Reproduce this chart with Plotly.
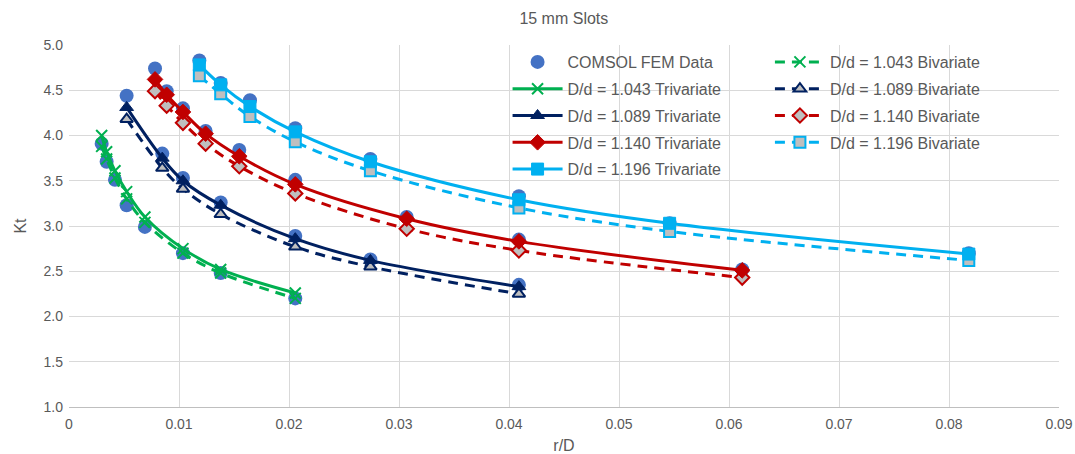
import plotly.graph_objects as go

# ---------------- data ----------------
x_1043 = [0.00297, 0.00342, 0.00418, 0.00524, 0.00690, 0.01036, 0.01379, 0.02057]
fem_1043 = [3.91, 3.71, 3.51, 3.23, 2.99, 2.70, 2.48, 2.20]
tri_1043 = [4.00, 3.82, 3.61, 3.38, 3.10, 2.75, 2.52, 2.26]
bi_1043 = [3.88, 3.74, 3.53, 3.30, 3.04, 2.70, 2.48, 2.20]

x_1089 = [0.00524, 0.00848, 0.01036, 0.01379, 0.02057, 0.0274, 0.0409]
fem_1089 = [4.44, 3.80, 3.53, 3.26, 2.89, 2.63, 2.35]
tri_1089 = [4.31, 3.75, 3.50, 3.23, 2.86, 2.62, 2.33]
bi_1089 = [4.18, 3.64, 3.41, 3.13, 2.77, 2.55, 2.25]

x_1140 = [0.00782, 0.00888, 0.01036, 0.01242, 0.01548, 0.02057, 0.0307, 0.0409, 0.0612]
fem_1140 = [4.74, 4.49, 4.30, 4.05, 3.84, 3.51, 3.10, 2.85, 2.52]
tri_1140 = [4.62, 4.45, 4.26, 4.02, 3.77, 3.46, 3.08, 2.83, 2.51]
bi_1140 = [4.49, 4.33, 4.14, 3.91, 3.66, 3.36, 2.97, 2.73, 2.43]

x_1196 = [0.01185, 0.01379, 0.01645, 0.02057, 0.0274, 0.0409, 0.0546, 0.0818]
fem_1196 = [4.83, 4.58, 4.39, 4.08, 3.74, 3.33, 3.03, 2.70]
tri_1196 = [4.78, 4.56, 4.32, 4.04, 3.71, 3.29, 3.03, 2.69]
bi_1196 = [4.66, 4.46, 4.21, 3.93, 3.61, 3.20, 2.94, 2.62]

ratios = ["1.043", "1.089", "1.140", "1.196"]
xs = [x_1043, x_1089, x_1140, x_1196]
fems = [fem_1043, fem_1089, fem_1140, fem_1196]
tris = [tri_1043, tri_1089, tri_1140, tri_1196]
bis = [bi_1043, bi_1089, bi_1140, bi_1196]

colors = ["#00B050", "#002060", "#C00000", "#00B0F0"]
symbols = ["x-thin", "triangle-up", "diamond", "square"]
FEM_COLOR = "#4472C4"
GRAY = "#BFBFBF"
TEXT = "#595959"
FONT = "Liberation Sans, Arial, sans-serif"

fig = go.Figure()

# COMSOL FEM data (drawn first, behind everything)
fem_x = [v for xx in xs for v in xx]
fem_y = [v for yy in fems for v in yy]
fig.add_trace(go.Scatter(
    x=fem_x, y=fem_y, mode="markers", name="COMSOL FEM Data",
    marker=dict(symbol="circle", size=14, color=FEM_COLOR),
    legend="legend", legendrank=1, legendgroup="fem",
))

# Bivariate (dashed)
for i, r in enumerate(ratios):
    c = colors[i]
    if symbols[i] == "x-thin":
        mk = dict(symbol="x-thin", size=11, color=c, line=dict(color=c, width=2))
    else:
        mk = dict(symbol=symbols[i], size=11, color=GRAY, line=dict(color=c, width=2))
    fig.add_trace(go.Scatter(
        x=xs[i], y=bis[i], mode="lines+markers",
        name=f"D/d = {r} Bivariate",
        line=dict(color=c, width=3, dash="10px,7px", shape="spline", smoothing=1),
        marker=mk, legend="legend2", legendrank=10 + i, legendgroup=f"bi{i}",
    ))

# Trivariate (solid)
for i, r in enumerate(ratios):
    c = colors[i]
    if symbols[i] == "x-thin":
        mk = dict(symbol="x-thin", size=11, color=c, line=dict(color=c, width=2))
    else:
        mk = dict(symbol=symbols[i], size=12, color=c, line=dict(color=c, width=1))
    fig.add_trace(go.Scatter(
        x=xs[i], y=tris[i], mode="lines+markers",
        name=f"D/d = {r} Trivariate",
        line=dict(color=c, width=3, shape="spline", smoothing=1),
        marker=mk, legend="legend", legendrank=2 + i, legendgroup=f"tri{i}",
    ))

legend_common = dict(
    orientation="v", yanchor="top", xanchor="left",
    bgcolor="rgba(0,0,0,0)", font=dict(family=FONT, size=16, color=TEXT),
    tracegroupgap=3, itemwidth=50,
)

fig.update_layout(
    width=1075, height=454,
    margin=dict(l=69, r=16, t=45, b=47, autoexpand=False),
    paper_bgcolor="white", plot_bgcolor="white",
    font=dict(family=FONT, color=TEXT, size=14),
    title=dict(text="15 mm Slots", x=0.5245, xanchor="center", y=0.96, yanchor="middle",
               font=dict(size=16, color=TEXT)),
    legend=dict(x=0.443, y=1.0, **legend_common),
    legend2=dict(x=0.708, y=1.0, **legend_common),
    showlegend=True,
)

fig.update_xaxes(
    range=[0, 0.09], dtick=0.01, tick0=0, showgrid=True, gridcolor="#D9D9D9", gridwidth=1,
    zeroline=False, showline=True, linecolor="#BFBFBF", linewidth=1, automargin=False,
    ticks="", tickfont=dict(size=14, color=TEXT), ticklabelstandoff=4,
    title=dict(text="r/D", font=dict(size=16, color=TEXT), standoff=10),
)
fig.update_yaxes(
    range=[1.0, 5.0], dtick=0.5, tick0=1.0, tickformat=".1f", showgrid=True,
    gridcolor="#D9D9D9", gridwidth=1, zeroline=False, showline=False, automargin=False,
    ticks="", tickfont=dict(size=14, color=TEXT), ticklabelstandoff=5,
    title=dict(text="Kt", font=dict(size=16, color=TEXT), standoff=12),
)

fig.write_html("out.html", config={"displayModeBar": False},
               post_script="document.body.style.margin='0px';")
